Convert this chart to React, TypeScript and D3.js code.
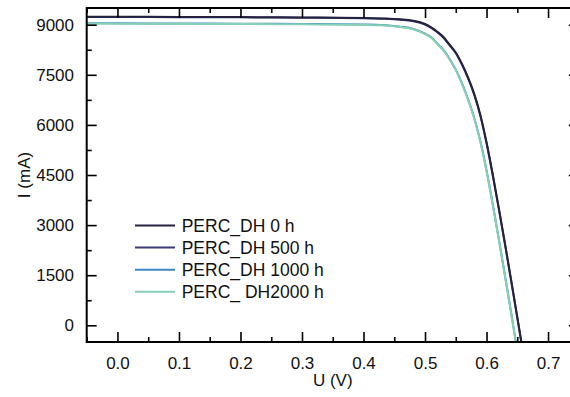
import { useRef, useEffect } from "react";
import * as d3 from "d3";

// I-V curves of PERC cells after damp-heat exposure
const U = [-0.05, 0, 0.1, 0.2, 0.3, 0.4, 0.43, 0.46, 0.48, 0.5, 0.51, 0.52, 0.53, 0.54, 0.55, 0.56, 0.57, 0.58, 0.59, 0.6, 0.61, 0.62, 0.63, 0.64, 0.65, 0.66];
const I_0h = [9240, 9238, 9233, 9227, 9218, 9203, 9188, 9160, 9120, 9020, 8920, 8790, 8630, 8400, 8170, 7830, 7420, 6930, 6300, 5480, 4530, 3510, 2450, 1360, 250, -870];
const I_500h = [9232, 9230, 9226, 9220, 9210, 9195, 9180, 9150, 9108, 9005, 8905, 8772, 8610, 8378, 8145, 7805, 7392, 6900, 6270, 5450, 4500, 3480, 2420, 1330, 220, -900];
const I_1000h = [9045, 9040, 9035, 9030, 9022, 9005, 8990, 8940, 8880, 8730, 8622, 8432, 8244, 7975, 7656, 7248, 6768, 6208, 5510, 4640, 3640, 2580, 1490, 380, -760, -1900];
const I_2000h = [9035, 9030, 9025, 9020, 9012, 8995, 8980, 8930, 8870, 8720, 8610, 8420, 8230, 7960, 7640, 7230, 6750, 6190, 5490, 4620, 3620, 2560, 1470, 360, -780, -1920];

const seriesNames = ["PERC_DH 0 h", "PERC_DH 500 h", "PERC_DH 1000 h", "PERC_ DH2000 h"];
const seriesColors = ["#24223f", "#3e3a7a", "#3f86c4", "#86d0b4"];
const seriesValues = [I_0h, I_500h, I_1000h, I_2000h];

const xMajor = [0, 0.1, 0.2, 0.3, 0.4, 0.5, 0.6, 0.7];
const xMinor = [-0.05, 0.05, 0.15, 0.25, 0.35, 0.45, 0.55, 0.65, 0.75];
const yMajor = [0, 1500, 3000, 4500, 6000, 7500, 9000];
const yMinor = [750, 2250, 3750, 5250, 6750, 8250];

const W = 570;
const H = 397;
const FONT = "'Liberation Sans', Arial, sans-serif";

export default function App() {
  const svgRef = useRef<SVGSVGElement>(null);

  useEffect(() => {
    if (!svgRef.current) return;
    const svg = d3.select(svgRef.current);
    svg.selectAll("*").remove();

    const left = 86.7, right = 578.8, top = 8, bottom = 342;
    const x = d3.scaleLinear().domain([-0.05, 0.75]).range([left, right]);
    const y = d3.scaleLinear().domain([-500, 9500]).range([bottom, top]);

    svg.append("defs").append("clipPath").attr("id", "plot-clip")
      .append("rect").attr("x", left).attr("y", top).attr("width", right - left).attr("height", bottom - top);

    // Curves (light ones first so the dark curves sit on top)
    const line = d3.line<number>()
      .x((_, i) => x(U[i])).y(d => y(d)).curve(d3.curveMonotoneX);
    const order = [2, 3, 1, 0];
    const curves = svg.append("g").attr("clip-path", "url(#plot-clip)");
    order.forEach(k => {
      curves.append("path").datum(seriesValues[k])
        .attr("fill", "none").attr("stroke", seriesColors[k]).attr("stroke-width", 2)
        .attr("d", line);
    });

    const styleAxis = (g: d3.Selection<SVGGElement, unknown, null, undefined>) => {
      g.select(".domain").remove();
      g.selectAll("line").attr("stroke", "#000").attr("stroke-width", 1.6);
      g.selectAll("text").attr("fill", "#111").attr("font-size", "17px").attr("font-family", FONT);
    };

    // Bottom
    svg.append("g").attr("transform", `translate(0,${bottom})`)
      .call(d3.axisBottom(x).tickValues(xMajor).tickSize(-10).tickPadding(15).tickFormat(d3.format(".1f")))
      .call(styleAxis);
    svg.append("g").attr("transform", `translate(0,${bottom})`)
      .call(d3.axisBottom(x).tickValues(xMinor).tickSize(-5).tickFormat(() => ""))
      .call(styleAxis);
    // Top
    svg.append("g").attr("transform", `translate(0,${top})`)
      .call(d3.axisTop(x).tickValues(xMajor).tickSize(-10).tickFormat(() => ""))
      .call(styleAxis);
    svg.append("g").attr("transform", `translate(0,${top})`)
      .call(d3.axisTop(x).tickValues(xMinor).tickSize(-5).tickFormat(() => ""))
      .call(styleAxis);
    // Left
    svg.append("g").attr("transform", `translate(${left},0)`)
      .call(d3.axisLeft(y).tickValues(yMajor).tickSize(-10).tickPadding(12.7).tickFormat(d3.format("d")))
      .call(styleAxis);
    svg.append("g").attr("transform", `translate(${left},0)`)
      .call(d3.axisLeft(y).tickValues(yMinor).tickSize(-5).tickFormat(() => ""))
      .call(styleAxis);
    // Right
    svg.append("g").attr("transform", `translate(${right},0)`)
      .call(d3.axisRight(y).tickValues(yMajor).tickSize(-10).tickFormat(() => ""))
      .call(styleAxis);
    svg.append("g").attr("transform", `translate(${right},0)`)
      .call(d3.axisRight(y).tickValues(yMinor).tickSize(-5).tickFormat(() => ""))
      .call(styleAxis);

    // Frame
    svg.append("rect").attr("x", left).attr("y", top)
      .attr("width", right - left).attr("height", bottom - top)
      .attr("fill", "none").attr("stroke", "#000").attr("stroke-width", 2);

    // Axis titles
    svg.append("text").attr("x", (left + right) / 2).attr("y", 385.5)
      .attr("text-anchor", "middle").attr("font-size", "17px").attr("font-family", FONT).attr("fill", "#111")
      .text("U (V)");
    svg.append("text").attr("transform", `translate(30,${(top + bottom) / 2}) rotate(-90)`)
      .attr("text-anchor", "middle").attr("font-size", "17px").attr("font-family", FONT).attr("fill", "#111")
      .text("I (mA)");

    // Legend
    const lg = svg.append("g");
    seriesNames.forEach((name, i) => {
      const cy = 225.5 + i * 22.1;
      lg.append("line").attr("x1", 135).attr("x2", 175).attr("y1", cy).attr("y2", cy)
        .attr("stroke", seriesColors[i]).attr("stroke-width", 2);
      lg.append("text").attr("x", 181.7).attr("y", cy + 6.3)
        .attr("font-size", "17.5px").attr("font-family", FONT).attr("fill", "#111")
        .text(name);
    });
  }, []);

  return (
    <svg ref={svgRef} width={W} height={H}
      style={{ position: "absolute", left: 0, top: 0, background: "#fff", overflow: "hidden" }} />
  );
}
